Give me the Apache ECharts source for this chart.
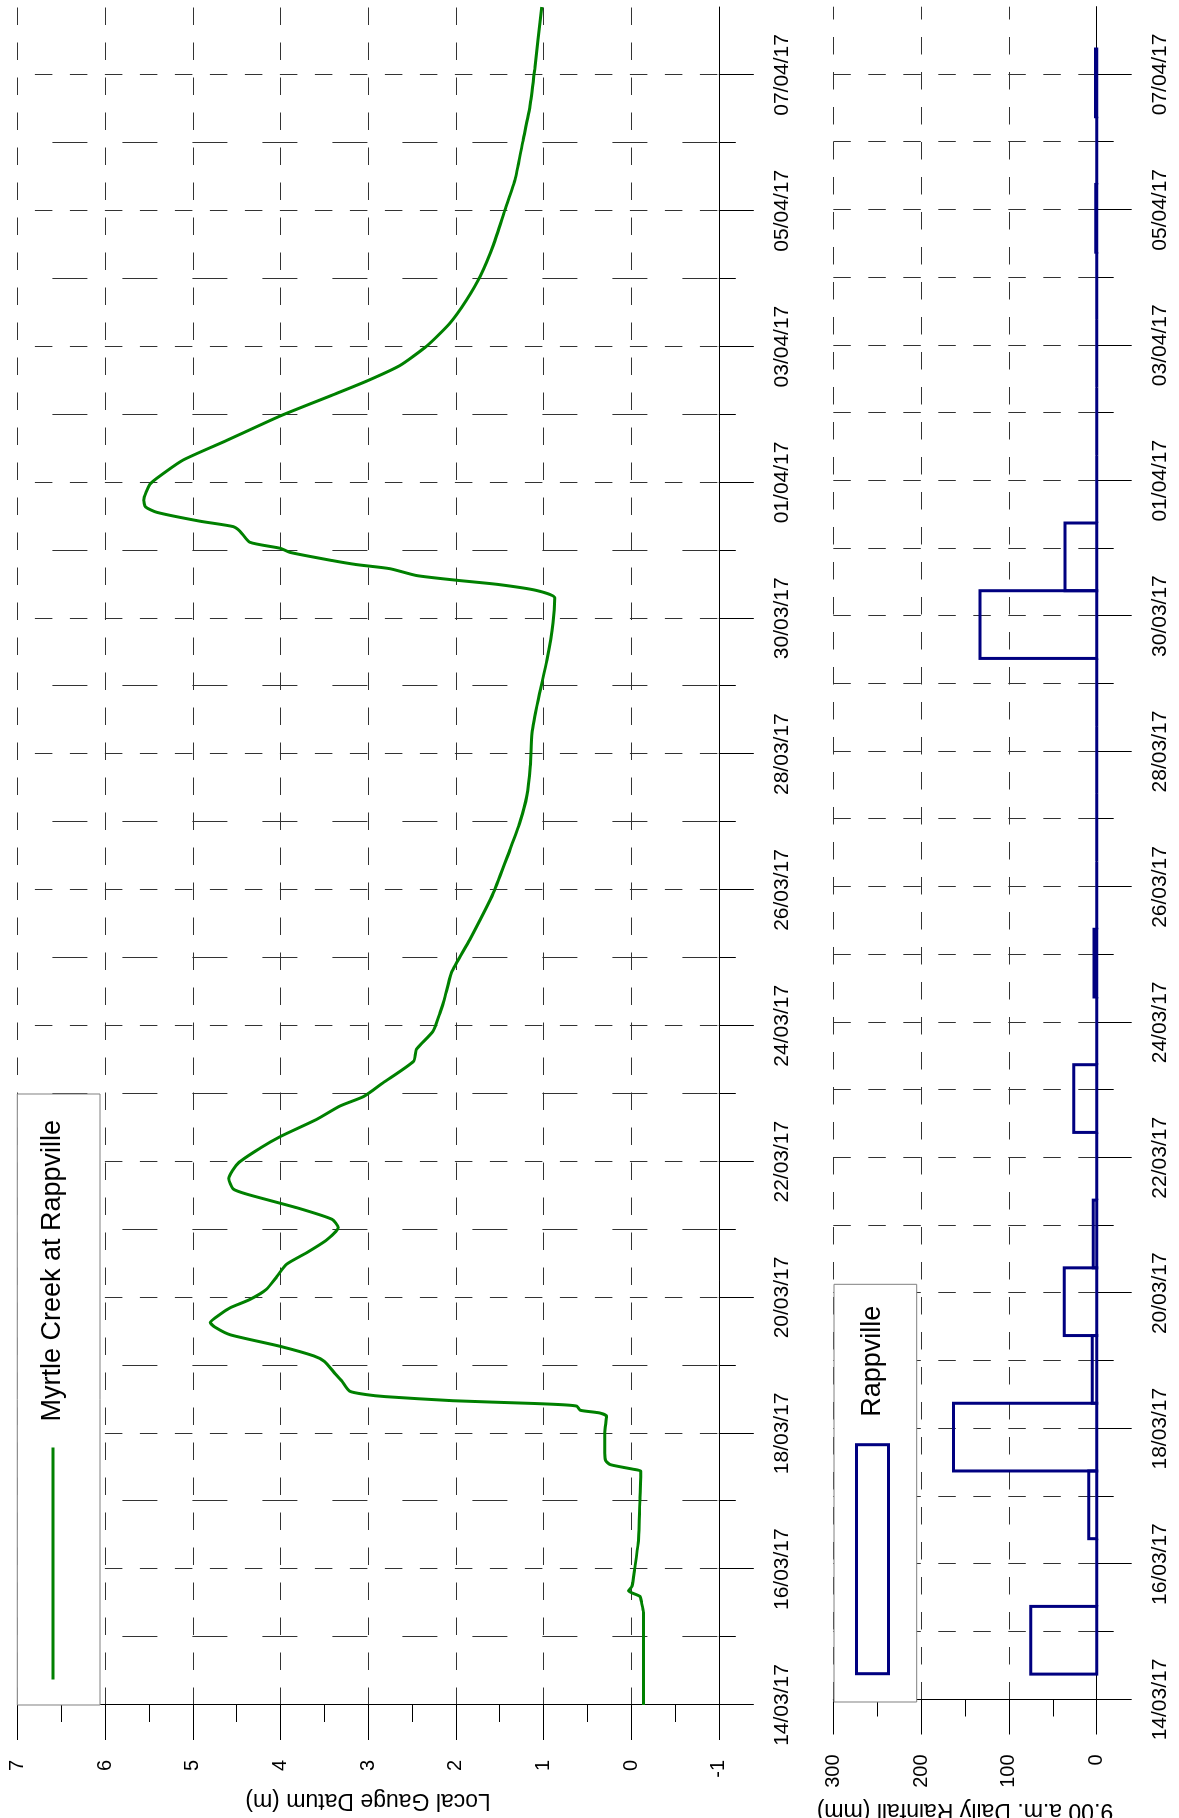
<!DOCTYPE html>
<html>
<head>
<meta charset="utf-8">
<script src="https://cdn.jsdelivr.net/npm/echarts@6.0.0/dist/echarts.min.js"></script>
<style>
html, body { margin: 0; padding: 0; background: #fff; overflow: hidden; width: 1179px; height: 1818px; }
/* chart is laid out landscape, then turned on its side like the source plot */
#chart { position: absolute; left: 0; top: 0; width: 1818px; height: 1179px;
         transform-origin: 0 0; transform: translate(0, 1818px) rotate(-90deg); }
</style>
</head>
<body>
<div id="chart"></div>
<script>
// water level, days after 14/03/17 00:00 -> metres on local gauge datum
const stageDays = [0.00, 1.36, 1.50, 1.60, 1.68, 1.75, 2.00, 2.39, 3.03, 3.44, 3.47, 3.54, 3.60, 3.71,
    4.01, 4.25, 4.30, 4.34, 4.40, 4.42, 4.44, 4.48, 4.54, 4.57, 4.62, 4.77, 4.87, 5.06, 5.14, 5.28,
    5.45, 5.55, 5.63, 5.75, 5.85, 5.97, 6.12, 6.31, 6.49, 6.66, 6.85, 7.03, 7.15, 7.32, 7.52, 7.60,
    7.75, 7.98, 8.20, 8.37, 8.62, 8.82, 8.96, 9.16, 9.48, 9.65, 9.92, 10.19, 10.39, 10.78, 11.27,
    11.96, 12.60, 12.99, 13.38, 13.82, 14.31, 14.80, 15.39, 15.93, 16.30, 16.41, 16.50, 16.56, 16.63,
    16.73, 16.79, 16.85, 16.97, 17.03, 17.12, 17.28, 17.35, 17.43, 17.56, 17.64, 17.74, 17.97, 18.10,
    18.33, 18.62, 18.98, 19.29, 19.49, 19.72, 20.01, 20.34, 20.68, 21.04, 21.50, 22.01, 22.48, 23.05,
    23.57, 24.08, 25.00];
const stageLevels = [-0.14, -0.14, -0.12, -0.10, 0.03, -0.01, -0.04, -0.08, -0.10, -0.11, -0.03, 0.24, 0.29, 0.30,
    0.30, 0.28, 0.36, 0.58, 0.62, 0.77, 1.12, 2.03, 2.80, 3.02, 3.21, 3.30, 3.37, 3.50, 3.62, 4.00,
    4.57, 4.73, 4.80, 4.69, 4.57, 4.35, 4.16, 4.04, 3.93, 3.70, 3.47, 3.34, 3.41, 3.81, 4.38, 4.54,
    4.59, 4.48, 4.23, 4.00, 3.59, 3.32, 3.05, 2.83, 2.48, 2.45, 2.26, 2.18, 2.13, 2.05, 1.84,
    1.57, 1.38, 1.27, 1.19, 1.15, 1.13, 1.06, 0.96, 0.89, 0.87, 1.08, 1.53, 1.99, 2.45,
    2.75, 3.13, 3.41, 3.89, 4.00, 4.35, 4.46, 4.54, 4.92, 5.41, 5.54, 5.56, 5.49, 5.37,
    5.11, 4.61, 4.00, 3.40, 3.02, 2.64, 2.33, 2.07, 1.88, 1.72, 1.57, 1.44, 1.32, 1.23,
    1.15, 1.10, 1.02];

// 9.00 a.m. daily rainfall (mm), read at 9am on each date for the previous 24 h
const rainReadDates = ['15/03/17', '16/03/17', '17/03/17', '18/03/17', '19/03/17', '20/03/17',
    '21/03/17', '22/03/17', '23/03/17', '24/03/17', '25/03/17', '26/03/17', '27/03/17', '28/03/17',
    '29/03/17', '30/03/17', '31/03/17', '01/04/17', '02/04/17', '03/04/17', '04/04/17', '05/04/17',
    '06/04/17', '07/04/17'];
const rainMm = [75, 0, 9, 163, 5, 37, 4, 0, 26, 0, 3, 0, 0, 0, 0, 133, 36, 0, 0, 0, 0, 1, 0, 1.5];

const dateTicks = ['14/03/17', '16/03/17', '18/03/17', '20/03/17', '22/03/17', '24/03/17', '26/03/17',
    '28/03/17', '30/03/17', '01/04/17', '03/04/17', '05/04/17', '07/04/17'];

const FONT = 'Liberation Sans, Arial, Helvetica, sans-serif';
const START = Date.UTC(2017, 2, 14);

function dayOf(s) {
    let p = s.split('/').map(Number);
    return (Date.UTC(2000 + p[2], p[1] - 1, p[0]) - START) / 864e5;
}
function dateLabel(v) {
    let t = new Date(START + Math.round(v * 864e5));
    let dd = String(t.getUTCDate()).padStart(2, '0');
    let mm = String(t.getUTCMonth() + 1).padStart(2, '0');
    return dd + '/' + mm + '/' + String(t.getUTCFullYear()).slice(2);
}

const tickDays = dateTicks.map(dayOf);
const rainData = rainReadDates.map(function (d, i) {
    let end = dayOf(d) + 0.375;   // 9am
    return [end - 1, end, rainMm[i]];
});
const stageData = stageDays.map(function (d, i) { return [d, stageLevels[i]]; });

function dateAxis(gridIndex, majorOffset, minorDash, minorOffset) {
    return {
        type: 'value', gridIndex: gridIndex, min: 0, max: 25, interval: 2,
        axisLine: { show: true, onZero: false, lineStyle: { color: '#000', width: 1 } },
        axisTick: { show: true, length: 35, customValues: tickDays, lineStyle: { color: '#000', width: 1 } },
        minorTick: { show: true, splitNumber: 2, length: 17, lineStyle: { color: '#000', width: 1 } },
        axisLabel: {
            customValues: tickDays, formatter: dateLabel,
            margin: 53, fontSize: 21, color: '#000', fontFamily: FONT
        },
        splitLine: { show: true, lineStyle: { color: '#333', width: 1, type: [17.5, 17.5], dashOffset: majorOffset } },
        minorSplitLine: { show: true, lineStyle: { color: '#333', width: 1, type: minorDash, dashOffset: minorOffset } }
    };
}

function valueAxis(gridIndex, min, max, interval, name, nameGap, fontSize) {
    return {
        type: 'value', gridIndex: gridIndex, min: min, max: max, interval: interval,
        name: name, nameLocation: 'middle', nameGap: nameGap,
        nameTextStyle: { fontSize: 23, color: '#000', fontFamily: FONT },
        axisLine: { show: true, onZero: false, lineStyle: { color: '#000', width: 1 } },
        axisTick: { show: true, length: 35, lineStyle: { color: '#000', width: 1 } },
        minorTick: { show: true, splitNumber: 2, length: 17, lineStyle: { color: '#000', width: 1 } },
        axisLabel: { margin: 55, fontSize: fontSize, color: '#000', fontFamily: FONT },
        splitLine: { show: true, lineStyle: { color: '#333', width: 1, type: [17.5, 17.5], dashOffset: 0 } }
    };
}

let chart = echarts.init(document.getElementById('chart'), null, { renderer: 'canvas' });

let option = {
    animation: false,
    backgroundColor: '#fff',
    textStyle: { fontFamily: FONT },
    grid: [
        { left: 113, right: 7, top: 17.4, height: 701.4, outerBoundsMode: 'none' },
        { left: 118.5, right: 6.7, top: 833.3, height: 263.4, outerBoundsMode: 'none' }
    ],
    xAxis: [
        dateAxis(0, 17.5, [35, 35], 35),
        dateAxis(1, 0, [17.5, 17.5], 0)
    ],
    yAxis: [
        valueAxis(0, -1, 7, 1, 'Local Gauge Datum (m)', 80, 20),
        valueAxis(1, 0, 300, 100, '9.00 a.m. Daily Rainfall (mm)', 90, 20)
    ],
    // white legend boxes
    graphic: [
        { type: 'rect', z: 3, shape: { x: 113, y: 17.3, width: 611, height: 82.7 },
          style: { fill: '#fff', stroke: '#808080', lineWidth: 1 } },
        { type: 'rect', z: 3, shape: { x: 116, y: 834, width: 417.7, height: 82.7 },
          style: { fill: '#fff', stroke: '#808080', lineWidth: 1 } }
    ],
    legend: [
        {
            data: ['Myrtle Creek at Rappville'], selectedMode: false, z: 5,
            left: 137, top: 39.5, padding: 0, itemWidth: 232, itemHeight: 27,
            lineStyle: { width: 3, color: '#008000', opacity: 1 },
            itemStyle: { color: 'rgba(0,0,0,0)', borderWidth: 0, opacity: 0 },
            textStyle: { fontSize: 27, color: '#000', fontFamily: FONT, padding: [0, 0, 0, 21] }
        },
        {
            data: [{ name: 'Rappville', icon: 'rect' }], selectedMode: false, z: 5,
            left: 142.8, top: 855, padding: 0, itemWidth: 229, itemHeight: 32,
            itemStyle: { color: 'rgba(0,0,0,0)', borderColor: '#000080', borderWidth: 3 },
            textStyle: { fontSize: 27, color: '#000', fontFamily: FONT, padding: [0, 0, 0, 23] }
        }
    ],
    series: [
        {
            name: 'Myrtle Creek at Rappville', type: 'line',
            xAxisIndex: 0, yAxisIndex: 0,
            data: stageData,
            symbol: 'none', showSymbol: false,
            smooth: 0.2,
            lineStyle: { color: '#008000', width: 3 },
            itemStyle: { color: '#008000' }
        },
        {
            name: 'Rappville', type: 'custom',
            xAxisIndex: 1, yAxisIndex: 1,
            data: rainData,
            encode: { x: [0, 1], y: 2 },
            itemStyle: { color: '#000080' },
            renderItem: function (params, api) {
                let a = api.coord([api.value(0), api.value(2)]);
                let b = api.coord([api.value(1), 0]);
                return {
                    type: 'rect',
                    shape: { x: a[0], y: a[1], width: b[0] - a[0], height: b[1] - a[1] },
                    style: { fill: 'none', stroke: '#000080', lineWidth: 3 }
                };
            }
        }
    ]
};

chart.setOption(option);
</script>
</body>
</html>
